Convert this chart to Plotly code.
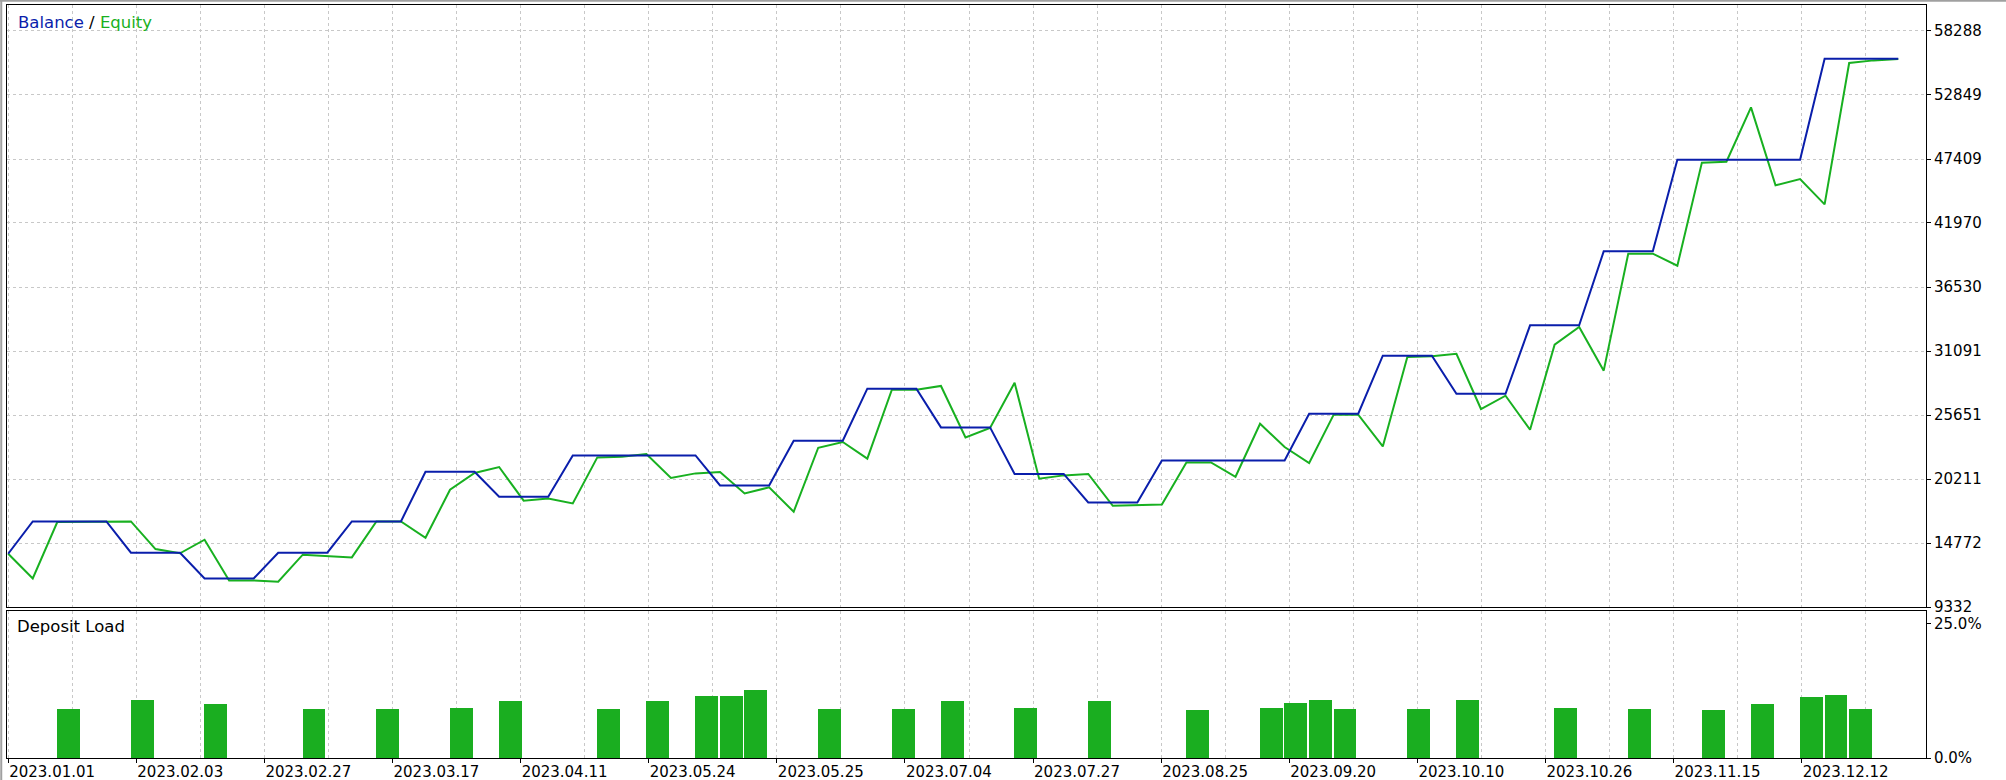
import plotly.graph_objects as go
from plotly.subplots import make_subplots

# ---- data ----
balance = [13860,
           16610, 16610, 16610, 16610,
           13950, 13950, 13950,
           11760, 11760, 11760,
           13950, 13950, 13950,
           16610, 16610, 16610,
           20830, 20830, 20830,
           18710, 18710, 18710,
           22220, 22220, 22220, 22220, 22220, 22220,
           19670, 19670, 19670,
           23470, 23470, 23470,
           27890, 27890, 27890,
           24600, 24600, 24600,
           20640, 20640, 20640,
           18220, 18220, 18220,
           21790, 21790, 21790, 21790, 21790, 21790,
           25760, 25760, 25760,
           30690, 30690, 30690,
           27460, 27460, 27460,
           33270, 33270, 33270,
           39560, 39560, 39560,
           47350, 47350, 47350, 47350, 47350, 47350,
           55930, 55930, 55930, 55930]

equity = [13860, 11760, 16560, 16580, 16610, 16610, 14260, 13900, 15050, 11590,
          11590, 11480, 13780, 13690, 13550, 16610, 16610, 15220, 19300, 20720,
          21230, 18370, 18560, 18140, 22050, 22100, 22340, 20300, 20690, 20810,
          18990, 19500, 17430, 22870, 23360, 21940, 27800, 27800, 28120, 23750,
          24550, 28400, 20240, 20520, 20640, 17940, 18000, 18050, 21620, 21620,
          20400, 24910, 22930, 21570, 25680, 25680, 22980, 30580, 30640, 30860,
          26160, 27290, 24400, 31630, 33130, 29420, 39360, 39360, 38340, 47100,
          47180, 51800, 45170, 45710, 43550, 55570, 55790, 55910]

load_deal = [2, 5, 8, 12, 15, 18, 20, 24, 26, 28, 29, 30, 33, 36, 38, 41, 44, 48,
             51, 52, 53, 54, 57, 59, 63, 66, 69, 71, 73, 74, 75]
load_pct = [9.2, 10.9, 10.0, 9.2, 9.2, 9.4, 10.7, 9.2, 10.7, 11.6, 11.5, 12.6, 9.2,
            9.2, 10.7, 9.4, 10.7, 9.0, 9.4, 10.3, 10.9, 9.2, 9.2, 10.9, 9.4, 9.2,
            9.0, 10.0, 11.3, 11.8, 9.2]

date_labels = ["2023.01.01", "2023.02.03", "2023.02.27", "2023.03.17", "2023.04.11",
               "2023.05.24", "2023.05.25", "2023.07.04", "2023.07.27", "2023.08.25",
               "2023.09.20", "2023.10.10", "2023.10.26", "2023.11.15", "2023.12.12"]

y_ticks = [9332, 14772, 20211, 25651, 31091, 36530, 41970, 47409, 52849, 58288]
load_ticks = [0, 25]
load_tick_text = ["0.0%", "25.0%"]

# ---- styling ----
BLUE = "#0a1eab"
GREEN = "#18b020"
BAR = "#1aae20"
GRID = "#c8c8c8"
FONT = "DejaVu Sans"

deals = list(range(len(balance)))
grid_step = 2.6095  # vertical grid spacing in deal units
grid_x = [k * grid_step for k in range(30)]
label_x = grid_x[::2][:len(date_labels)]

fig = make_subplots(rows=2, cols=1, shared_xaxes=True)

fig.add_trace(go.Scatter(x=deals, y=equity, mode="lines",
                         line=dict(color=GREEN, width=2), hoverinfo="skip",
                         showlegend=False), row=1, col=1)
fig.add_trace(go.Scatter(x=deals, y=balance, mode="lines",
                         line=dict(color=BLUE, width=2), hoverinfo="skip",
                         showlegend=False), row=1, col=1)
fig.add_trace(go.Bar(x=[d + 0.46 for d in load_deal], y=load_pct, width=0.93,
                     marker=dict(color=BAR, line=dict(width=0)),
                     hoverinfo="skip", showlegend=False), row=2, col=1)

xcommon = dict(range=[-0.049, 78.13], showline=True, mirror=True, linecolor="black",
               linewidth=1, zeroline=False, showgrid=False, automargin=False,
               minor=dict(tickvals=grid_x, showgrid=True, gridcolor=GRID,
                          griddash="3px,3px", gridwidth=1, ticks=""))

fig.update_layout(
    width=2006, height=780,
    margin=dict(l=7, r=80, t=5, b=22),
    paper_bgcolor="white", plot_bgcolor="white",
    font=dict(family=FONT, size=15, color="black"),
    bargap=0,
    xaxis=dict(**xcommon, showticklabels=False, ticks=""),
    xaxis2=dict(**xcommon, tickvals=label_x, ticktext=date_labels,
                ticks="outside", ticklen=4, tickcolor="black",
                ticklabelposition="outside right",
                tickfont=dict(family=FONT, size=15, color="black")),
    yaxis=dict(domain=[0.2005, 1], range=[9332, 60497], side="right",
               tickvals=y_ticks, ticktext=[str(v) for v in y_ticks],
               ticks="outside", ticklen=4, tickcolor="black", automargin=False,
               showgrid=True, gridcolor=GRID, griddash="3px,3px", gridwidth=1,
               showline=True, mirror=True, linecolor="black", linewidth=1,
               zeroline=False, tickfont=dict(family=FONT, size=15, color="black")),
    yaxis2=dict(domain=[0, 0.1952], range=[0, 27.4], side="right",
                tickvals=load_ticks, ticktext=load_tick_text,
                ticks="outside", ticklen=4, tickcolor="black", automargin=False,
                showgrid=False, showline=True, mirror=True, linecolor="black",
                linewidth=1, zeroline=False,
                tickfont=dict(family=FONT, size=15, color="black")),
    annotations=[
        dict(xref="paper", yref="paper", x=0.0047, y=0.9774, xanchor="left",
             yanchor="middle", showarrow=False,
             text=f"<span style='color:{BLUE}'>Balance</span> / "
                  f"<span style='color:{GREEN}'>Equity</span>",
             font=dict(family=FONT, size=16.5, color="black")),
        dict(xref="paper", yref="paper", x=0.0042, y=0.174, xanchor="left",
             yanchor="middle", showarrow=False, text="Deposit Load",
             font=dict(family=FONT, size=16.5, color="black")),
    ],
    shapes=[
        dict(type="line", xref="paper", yref="paper", x0=-0.003, x1=-0.003,
             y0=-0.03, y1=1.007, line=dict(color="#a0a0a0", width=2)),
        dict(type="line", xref="paper", yref="paper", x0=-0.004, x1=1.042,
             y0=1.0055, y1=1.0055, line=dict(color="#a0a0a0", width=2)),
    ],
)

fig.write_html("out.html",
               config={"displayModeBar": False},
               post_script="document.body.style.margin='0';"
                           "document.body.style.overflow='hidden';")
